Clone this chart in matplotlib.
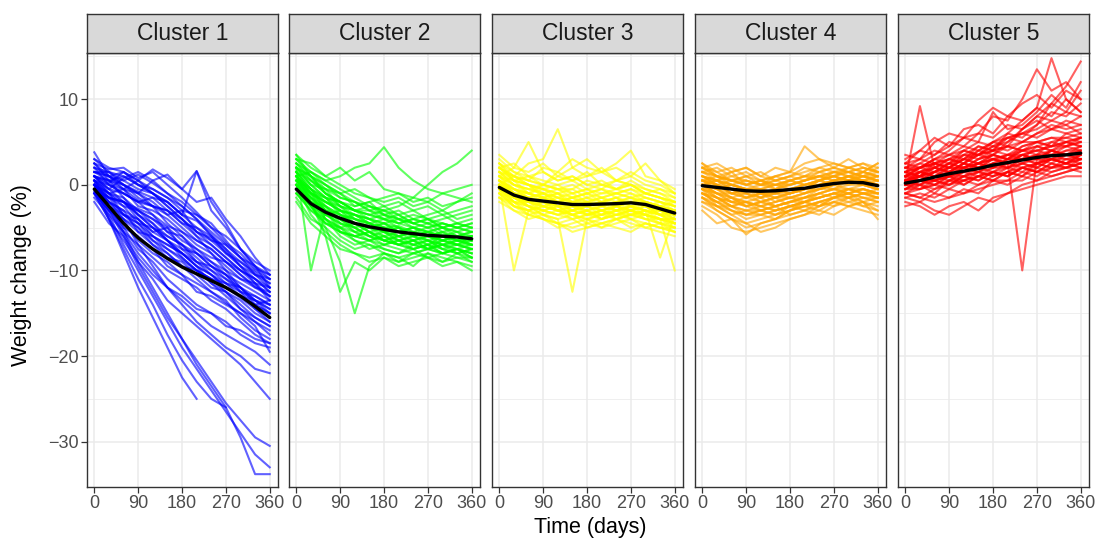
import numpy as np
import matplotlib
matplotlib.use('Agg')
import matplotlib.pyplot as plt

plt.rcParams['font.family'] = ['Liberation Sans', 'DejaVu Sans']

nan = np.nan

DAYS = [0, 30, 60, 90, 120, 150, 180, 210, 240, 270, 300, 330, 360]

# individual weight trajectories (%), one row per person
CLUSTER_1 = [
    [1.5, 1.0, 0.5, 1.2, 0.2, -1.0, -2.5, -4.0, -5.5, -7.0, -8.5, -10.0, -11.0],
    [2.5, 1.8, 2.0, 0.8, 1.5, 0.0, -1.5, -3.2, -5.0, -6.8, -8.0, -9.8, -10.5],
    [0.5, -0.5, 0.8, 1.5, 0.5, 1.2, -0.5, 1.6, -2.0, -4.5, -7.5, -9.5, -12.0],
    [3.8, 1.0, 0.0, -0.8, -1.5, -2.0, -3.5, -4.2, -5.8, -7.5, -9.0, -10.2, -11.5],
    [0.0, -1.0, -0.5, -1.8, -2.5, -3.0, -4.0, -5.5, -6.2, -7.8, -9.5, -11.0, -12.5],
    [1.0, 0.2, 1.5, 0.5, -0.5, -1.5, -3.0, -3.5, -5.0, -6.0, -7.5, -9.0, -10.0],
    [-0.5, -1.5, -2.0, -2.8, -3.5, -4.8, -5.5, -6.5, -7.5, -9.0, -10.5, -11.8, -13.0],
    [2.0, 1.5, 0.0, -1.0, 0.5, -1.0, -2.0, -3.5, -4.5, -6.5, -8.5, -10.5, -12.0],
    [0.0, -2.0, -3.5, -5.0, -6.5, -7.5, -8.8, -10.0, -11.0, -12.0, -13.2, -14.5, -15.5],
    [1.0, -1.0, -2.5, -3.0, -4.5, -6.0, -7.0, -8.5, -10.0, -11.5, -12.5, -13.5, -14.5],
    [-1.0, -3.0, -4.5, -6.5, -8.0, -9.0, -10.5, -11.5, -12.5, -13.8, -15.0, -16.0, -17.0],
    [0.5, -1.5, -2.0, -4.0, -5.5, -5.0, -7.5, -9.0, -9.5, -11.0, -12.0, -14.0, -13.5],
    [-1.5, -3.5, -5.5, -7.0, -8.5, -10.0, -11.0, -12.0, -13.5, -14.5, -16.0, -17.5, -18.5],
    [2.0, 0.0, -1.0, -2.0, -3.5, -5.5, -7.0, -9.0, -10.5, -12.0, -13.0, -14.0, -15.0],
    [0.0, -2.5, -4.0, -5.0, -7.0, -8.5, -9.0, -10.5, -12.0, -12.5, -14.5, -15.5, -16.5],
    [1.0, 0.5, -1.5, -3.5, -4.5, -6.5, -8.0, -9.5, -11.5, -13.0, -14.5, -16.0, -17.5],
    [-0.5, -2.0, -3.0, -5.5, -6.0, -7.5, -8.5, -10.0, -11.0, -11.5, -13.0, -13.5, -14.0],
    [0.5, -1.0, -3.5, -4.5, -6.5, -8.0, -9.5, -11.0, -12.5, -13.5, -15.5, -17.0, -18.0],
    [2.5, 0.5, -0.5, -2.5, -3.0, -4.0, -5.5, -7.0, -8.0, -9.5, -11.0, -12.0, -13.0],
    [-0.8, -2.5, -5.0, -6.0, -7.5, -9.5, -10.5, -12.5, -13.0, -14.0, -15.0, -16.5, -19.5],
    [1.0, -0.5, -1.0, -2.0, -2.5, -4.5, -6.0, -8.0, -9.5, -10.5, -12.5, -14.5, -16.0],
    [0.0, -1.5, -2.0, -3.5, -5.0, -6.0, -7.0, -8.0, -9.0, -10.0, -11.0, -11.5, -12.0],
    [1.5, 1.0, -0.5, 0.5, -1.0, -2.5, -4.0, -6.0, -8.0, -10.0, -12.0, -13.5, -15.0],
    [-1.0, -2.5, -3.5, -4.0, -6.0, -7.0, -8.0, -9.5, -10.5, -11.5, -12.0, -13.0, -14.0],
    [-0.5, -3.0, -5.5, -8.0, -10.0, -12.0, -13.5, -15.0, -16.5, -17.5, -18.5, -19.5, -21.0],
    [0.0, -2.5, -5.0, -7.5, -9.0, -11.0, -12.5, -14.0, -15.0, -16.0, -17.5, -18.5, -19.0],
    [-1.0, -4.0, -6.5, -9.0, -11.0, -13.5, -15.0, -16.5, -18.0, -19.5, -21.0, -23.0, -25.0],
    [0.5, -2.0, -4.0, -7.0, -9.5, -12.0, -14.0, -16.0, -17.5, -19.0, -20.0, -21.5, -22.0],
    [0.0, -3.0, -6.0, -9.5, -12.5, -15.5, -18.0, -20.5, -23.0, -25.5, -27.5, -29.5, -30.5],
    [-0.5, -3.5, -7.0, -10.0, -13.0, -16.0, -19.0, -21.5, -24.0, -26.5, -29.0, -31.5, -33.0],
    [0.5, -2.5, -5.5, -9.0, -12.0, -15.0, -18.0, -21.0, -23.5, -26.0, -29.5, -33.8, -33.8],
    [-1.0, -4.0, -7.5, -11.0, -14.0, -17.5, -20.5, -23.0, -25.0, -26.0, nan, nan, nan],
    [0.0, -4.0, -8.0, -12.0, -15.5, -19.0, -22.5, -25.0, nan, nan, nan, nan, nan],
    [1.0, 0.5, 1.0, 0.0, -1.0, -2.0, -3.5, 1.6, -3.0, -5.0, -7.5, -9.5, -11.0],
    [3.0, 2.0, 1.5, 0.5, 1.8, 0.8, -0.5, -2.0, -1.5, -4.0, -6.0, -8.5, -10.5],
    [-2.0, -4.5, -6.0, -8.5, -10.5, -12.0, -13.0, -14.5, -15.0, -16.5, -17.0, -18.0, -18.5],
    [0.5, 0.0, -1.0, -2.0, -1.5, -3.0, -4.5, -5.0, -6.5, -8.0, -9.0, -10.5, -11.5],
    [1.5, 0.5, 0.0, -1.5, -2.5, -3.5, -3.0, -5.5, -7.0, -8.5, -10.0, -11.0, -12.5],
    [-0.5, -2.0, -3.0, -4.0, -5.5, -6.5, -7.5, -8.0, -9.5, -10.5, -11.5, -12.5, -13.5],
    [2.0, 1.0, 1.5, 0.0, -1.0, -2.0, -3.5, -5.0, -6.0, -7.5, -9.5, -11.5, -13.0],
    [0.0, -1.5, -2.5, -4.5, -5.0, -6.5, -8.0, -9.0, -10.0, -11.0, -12.5, -13.0, -14.0],
    [1.0, 0.0, -0.5, -1.0, -2.0, -3.5, -5.0, -6.5, -7.5, -9.0, -10.5, -12.0, -12.5],
    [3.0, 1.5, 1.0, 0.0, -0.5, -1.5, -2.5, -4.0, -6.0, -8.0, -9.5, -10.5, -11.0],
    [-1.0, -3.0, -4.0, -5.5, -7.0, -8.0, -9.5, -10.0, -11.5, -12.5, -13.5, -15.0, -16.0],
    [0.5, -1.0, -2.0, -3.0, -4.0, -5.0, -6.5, -7.5, -8.5, -9.0, -10.0, -11.0, -12.0],
    [1.5, 1.5, 0.5, -0.5, -1.0, -2.5, -4.0, -5.5, -6.5, -7.0, -8.5, -9.5, -10.5],
    [0.0, -1.0, -1.5, -3.0, -4.0, -5.5, -6.0, -7.5, -9.0, -10.5, -12.0, -13.5, -14.5],
    [2.5, 1.0, 0.0, -1.0, -2.5, -3.0, -4.5, -6.0, -7.0, -8.5, -10.0, -11.5, -13.5],
    [-0.5, -1.5, -3.5, -4.5, -6.0, -7.0, -8.0, -9.5, -10.5, -12.0, -13.0, -14.0, -15.0],
    [1.0, -0.5, -2.0, -3.5, -5.0, -6.5, -8.5, -10.0, -11.0, -12.5, -14.0, -15.5, -16.5],
]

CLUSTER_2 = [
    [1.0, -1.0, -2.5, -3.5, -4.0, -4.5, -5.0, -4.8, -5.5, -5.0, -5.8, -6.0, -5.5],
    [2.5, 0.5, -1.0, -2.0, -3.0, -3.5, -3.0, -4.0, -4.5, -4.0, -5.0, -4.5, -5.0],
    [-1.0, -3.0, -4.5, -5.5, -6.0, -6.5, -7.0, -6.5, -7.5, -7.0, -8.0, -7.5, -8.0],
    [0.0, -2.0, -3.5, -4.5, -5.5, -5.0, -6.0, -6.5, -6.0, -7.0, -6.5, -7.0, -7.5],
    [3.0, 1.5, 0.0, -1.5, -2.0, -3.0, -2.5, -3.5, -3.0, -4.0, -3.5, -4.5, -4.0],
    [0.5, -1.5, -3.0, -5.0, -6.5, -7.0, -7.5, -8.0, -7.5, -8.5, -8.0, -8.5, -9.0],
    [1.5, -0.5, -2.0, -3.0, -3.5, -4.5, -4.0, -5.0, -5.5, -6.0, -5.5, -6.5, -6.0],
    [-0.5, -2.5, -4.0, -5.0, -4.5, -5.5, -6.5, -6.0, -7.0, -6.5, -7.5, -7.0, -7.0],
    [2.0, 0.0, -0.5, -1.0, -2.5, -2.0, -3.5, -3.0, -4.0, -3.5, -3.0, -4.0, -3.5],
    [0.0, -3.5, -5.5, -7.0, -8.0, -8.5, -8.0, -9.0, -8.5, -8.0, -9.0, -8.5, -8.5],
    [1.0, -1.0, -1.5, -3.5, -4.5, -5.5, -6.0, -5.5, -6.5, -6.0, -7.0, -6.5, -6.5],
    [3.5, 2.0, 1.0, 0.0, -1.0, -1.5, -2.5, -2.0, -3.0, -2.5, -3.5, -3.0, -2.5],
    [-1.5, -4.0, -5.0, -6.5, -7.5, -7.0, -8.0, -8.5, -9.5, -8.0, -8.5, -9.0, -10.0],
    [0.5, -2.0, -2.5, -4.0, -5.0, -6.0, -5.5, -6.5, -7.0, -7.5, -6.5, -7.0, -6.0],
    [2.0, 1.0, -1.0, -2.5, -3.0, -4.0, -4.5, -4.0, -5.0, -5.5, -5.0, -5.5, -5.0],
    [0.0, -1.5, -3.0, -4.0, -3.5, -4.5, -5.0, -5.5, -5.0, -6.0, -5.5, -5.0, -4.5],
    [1.0, -0.5, -3.0, -5.5, -6.0, -5.5, -6.5, -7.0, -6.5, -7.5, -7.0, -7.5, -7.0],
    [-0.5, -2.0, -3.5, -3.0, -4.5, -5.0, -4.5, -5.5, -6.0, -5.5, -6.5, -6.0, -6.5],
    [2.5, 1.5, 0.5, -0.5, -1.5, -2.5, -3.0, -3.5, -4.5, -5.0, -4.5, -5.0, -5.5],
    [1.5, 0.0, -1.5, -2.0, -3.0, -3.5, -4.0, -4.5, -4.0, -4.5, -5.0, -5.5, -6.0],
    [1.0, 1.5, 0.5, 1.0, 2.0, 2.5, 4.4, 2.0, 0.5, -0.5, -1.0, -1.5, -2.0],
    [0.5, -0.5, -1.5, -2.0, -2.5, -2.0, -1.5, -1.0, -1.5, 0.0, 1.5, 2.5, 4.0],
    [2.0, 1.0, 0.0, -1.0, -0.5, -1.5, -2.0, -1.5, -2.5, -2.0, -1.0, -0.5, 0.0],
    [0.0, -2.5, -5.0, -9.0, -15.0, -9.5, -8.0, -8.5, -8.0, -7.5, -8.0, -7.5, -8.0],
    [1.0, -2.0, -6.0, -12.5, -9.0, -10.0, -8.5, -9.0, -8.0, -8.5, -9.0, -8.0, -8.5],
    [2.0, -10.0, -3.0, -4.0, -5.0, -4.5, -5.5, -6.0, -5.5, -6.0, -6.5, -6.0, -6.5],
    [3.0, 2.5, 1.0, 2.0, 0.5, 1.5, -0.5, -1.0, -2.0, -1.5, -2.5, -2.0, -1.0],
    [-2.0, -4.5, -6.0, -7.5, -8.0, -9.0, -8.5, -9.5, -9.0, -8.5, -9.5, -9.0, -9.5],
    [0.5, -1.0, -2.0, -2.5, -4.0, -4.5, -5.5, -5.0, -6.0, -5.5, -6.0, -7.0, -7.5],
    [1.5, -1.0, -4.0, -5.5, -6.5, -7.5, -7.0, -7.5, -8.0, -7.5, -7.0, -8.0, -7.5],
    [-1.0, -2.5, -4.5, -5.0, -6.0, -6.5, -6.0, -7.0, -6.5, -7.0, -6.0, -6.5, -7.0],
    [2.0, 0.5, -0.5, -1.5, -2.0, -3.0, -3.5, -4.5, -4.0, -4.5, -4.0, -3.5, -3.0],
    [0.0, -1.0, -2.0, -3.0, -3.5, -4.0, -3.5, -4.0, -4.5, -4.0, -4.5, -5.0, -4.5],
    [1.0, -1.5, -3.5, -4.5, -5.0, -6.0, -6.5, -7.0, -7.5, -7.0, -8.0, -7.5, -8.5],
    [3.5, 1.0, -1.0, -2.0, -3.0, -2.5, -3.0, -2.5, -1.5, -2.0, -3.0, -2.0, -1.5],
    [0.0, -2.0, -4.0, -6.0, -7.0, -6.5, -7.5, -8.0, -7.0, -6.5, -7.5, -8.0, -9.0],
    [1.0, -1.0, -2.0, -3.0, -4.0, -4.5, -5.5, -5.0, -6.0, -6.5, -6.0, -6.5, -7.0],
    [0.0, -2.0, -3.0, -4.0, -4.5, -5.5, -5.0, -6.0, -5.5, -6.5, -7.0, -6.5, -7.0],
    [2.0, 0.0, -1.5, -3.0, -3.5, -4.0, -5.0, -5.5, -5.0, -5.5, -6.0, -6.5, -6.0],
    [-0.5, -2.5, -4.5, -5.5, -6.0, -5.5, -6.5, -7.0, -7.5, -7.0, -7.5, -8.0, -7.5],
    [1.5, -0.5, -2.5, -3.5, -4.5, -5.0, -4.5, -5.0, -6.0, -5.5, -6.0, -5.5, -6.5],
    [0.5, -1.5, -2.5, -4.5, -5.0, -6.0, -6.5, -6.0, -6.5, -6.0, -6.5, -7.0, -6.5],
    [2.5, 1.0, -0.5, -2.5, -3.0, -3.5, -4.0, -3.5, -4.5, -5.0, -4.5, -5.0, -5.5],
    [0.0, -2.5, -3.5, -4.0, -5.5, -6.5, -6.0, -7.0, -6.5, -7.5, -7.0, -7.5, -8.0],
    [1.0, -0.5, -1.5, -2.5, -3.5, -4.0, -4.5, -5.5, -5.0, -5.5, -5.0, -6.0, -6.0],
    [-1.0, -3.0, -4.0, -5.0, -5.5, -6.0, -7.0, -6.5, -7.0, -7.5, -8.0, -7.5, -8.5],
    [3.0, 1.0, 0.0, -1.0, -2.0, -2.5, -3.5, -4.0, -3.5, -4.0, -5.0, -4.5, -5.0],
    [0.5, -1.0, -3.0, -4.0, -4.5, -5.0, -5.5, -6.5, -6.0, -6.5, -7.0, -7.0, -7.5],
    [1.5, 0.5, -1.0, -2.0, -3.0, -3.0, -4.0, -4.5, -5.0, -4.5, -5.5, -6.0, -5.5],
    [-0.5, -2.0, -3.0, -3.5, -4.0, -5.0, -5.5, -6.0, -5.5, -6.0, -6.5, -6.0, -7.0],
]

CLUSTER_3 = [
    [0.5, -0.5, -1.0, -1.5, -1.0, -2.0, -1.5, -2.5, -2.0, -1.5, -2.0, -2.5, -3.0],
    [2.0, 1.0, 0.0, -0.5, -1.0, -0.5, -1.5, -1.0, -0.5, -1.0, -1.5, -2.0, -2.5],
    [-1.0, -2.5, -3.0, -3.5, -4.0, -3.5, -4.5, -4.0, -3.5, -4.0, -4.5, -5.0, -5.5],
    [0.0, -1.5, -2.0, -2.5, -3.0, -3.5, -3.0, -2.5, -3.0, -2.5, -3.5, -4.0, -4.0],
    [3.0, 1.5, 1.0, 0.5, 0.0, 0.5, -0.5, 0.0, 0.5, 0.0, -1.0, -1.5, -2.0],
    [-0.5, -2.0, -3.5, -4.0, -4.5, -5.0, -4.5, -5.0, -4.0, -4.5, -5.0, -5.5, -6.0],
    [1.0, 0.0, -0.5, -1.0, -2.0, -1.5, -2.0, -1.5, -2.5, -2.0, -2.5, -3.0, -3.5],
    [-2.0, -3.0, -3.5, -3.0, -3.5, -4.0, -3.5, -3.0, -4.0, -3.5, -3.0, -4.0, -4.5],
    [1.5, 0.5, -1.0, -0.5, -1.5, -2.0, -2.5, -2.0, -1.5, -2.5, -2.0, -3.0, -3.5],
    [0.0, -1.0, -1.5, -2.5, -2.0, -3.0, -2.5, -3.5, -3.0, -2.5, -3.0, -3.5, -4.5],
    [2.5, 0.5, 0.0, -1.0, -0.5, -1.5, -1.0, -0.5, -1.5, -1.0, -2.0, -2.5, -2.0],
    [-1.5, -3.0, -4.0, -3.5, -4.5, -4.0, -5.0, -4.5, -4.0, -5.0, -4.5, -5.0, -5.0],
    [0.5, -1.0, -2.0, -1.5, -2.5, -3.0, -2.0, -3.0, -2.5, -2.0, -2.5, -3.5, -3.0],
    [1.0, 0.5, 0.0, -1.5, -1.0, -2.5, -3.0, -2.5, -2.0, -3.0, -3.5, -3.0, -4.0],
    [-0.5, -1.5, -2.5, -3.0, -2.5, -2.0, -3.5, -3.0, -3.5, -3.0, -4.0, -4.5, -5.0],
    [2.0, 2.5, 1.0, 1.5, 0.5, 1.0, 0.0, 0.5, -0.5, 0.0, -1.0, -0.5, -1.5],
    [0.0, -2.0, -2.5, -2.0, -3.0, -2.5, -3.0, -3.5, -2.5, -3.0, -2.0, -3.0, -3.5],
    [1.5, 0.0, -0.5, 0.0, -0.5, -1.0, -0.5, -1.5, -1.0, -0.5, -1.5, -2.0, -2.5],
    [-1.0, -2.0, -2.0, -3.0, -3.5, -3.0, -2.5, -3.0, -3.5, -3.5, -3.0, -3.5, -4.0],
    [0.5, -0.5, -1.5, -2.0, -1.5, -1.0, -2.0, -1.5, -1.0, -1.5, -2.5, -2.0, -3.0],
    [1.0, 2.0, 5.0, 1.5, 0.5, 1.0, 0.0, -0.5, 0.5, 0.0, -1.0, -1.5, -2.0],
    [2.0, 1.0, 2.5, 3.0, 6.5, 2.0, 1.0, 1.5, 0.5, 1.0, 0.0, -0.5, -1.0],
    [0.0, 1.0, 0.5, 2.0, 1.5, 3.0, 2.0, 1.5, 2.5, 4.0, 1.0, 0.5, -1.0],
    [0.0, -10.0, -3.0, -2.5, -3.0, -3.5, -3.0, -4.0, -3.5, -3.0, -3.5, -4.0, -4.5],
    [-0.5, -1.5, -2.5, -3.5, -4.0, -12.5, -4.0, -4.5, -4.0, -3.5, -4.0, -4.5, -5.0],
    [0.5, -0.5, -1.0, -1.5, -2.0, -2.5, -2.0, -2.5, -3.0, -2.5, -3.0, -8.5, -3.5],
    [-1.0, -1.5, -2.0, -2.5, -3.0, -2.5, -3.5, -3.0, -2.5, -3.0, -3.5, -4.0, -10.0],
    [3.5, 2.0, 1.5, 2.5, 1.0, 2.0, 3.0, 1.5, 2.0, 1.0, 2.5, 0.5, -0.5],
    [1.0, 0.0, -1.0, 0.0, 1.0, 0.5, 1.5, 0.0, -0.5, 0.5, -0.5, -1.0, -2.0],
    [-0.5, -2.5, -3.0, -4.0, -4.5, -5.5, -5.0, -4.5, -5.0, -5.5, -4.5, -5.0, -5.5],
    [0.0, -1.0, -1.0, -1.5, -2.0, -1.5, -2.5, -2.0, -2.5, -2.0, -2.0, -2.5, -3.0],
    [2.5, 1.0, 0.5, 0.0, -0.5, 0.0, -1.0, -0.5, -1.0, -1.5, -1.0, -1.5, -2.0],
    [-1.5, -2.5, -3.5, -4.0, -5.0, -4.5, -4.0, -5.0, -4.5, -4.0, -5.0, -4.5, -5.5],
    [1.0, -1.0, -1.5, -1.0, -2.0, -1.5, -1.0, -2.0, -1.5, -2.5, -2.0, -2.5, -3.0],
    [0.5, -1.0, -2.5, -3.0, -2.5, -3.5, -4.0, -3.5, -3.0, -4.0, -3.5, -4.0, -4.5],
    [2.0, 0.5, 1.0, 0.0, 1.5, 0.5, 1.0, 2.0, 0.5, 1.5, 0.5, 0.0, -1.0],
    [0.5, -1.0, -1.5, -2.0, -2.5, -2.0, -2.5, -3.0, -2.5, -2.0, -2.5, -3.0, -3.5],
    [1.5, 0.0, -0.5, -1.0, -1.5, -2.0, -1.5, -2.0, -1.5, -2.0, -1.5, -2.0, -2.5],
    [-0.5, -2.0, -2.5, -3.0, -3.5, -3.0, -3.5, -4.0, -3.5, -3.0, -3.5, -4.5, -4.5],
    [0.0, -0.5, -1.0, -2.0, -2.5, -2.5, -2.0, -2.5, -2.0, -2.5, -3.0, -3.5, -4.0],
    [2.0, 0.5, 0.0, -0.5, -1.0, -1.5, -1.0, -1.5, -2.0, -1.5, -2.0, -2.5, -3.0],
    [-1.0, -2.5, -3.0, -2.5, -3.0, -3.5, -4.0, -3.5, -3.0, -3.5, -4.0, -4.0, -5.0],
    [1.0, -0.5, -1.5, -1.0, -1.5, -2.5, -2.5, -2.0, -3.0, -2.5, -3.0, -3.0, -3.0],
    [0.0, -1.5, -2.0, -2.5, -2.0, -3.0, -3.5, -3.0, -2.5, -3.5, -3.0, -3.5, -3.5],
    [-0.5, -1.0, -2.0, -1.5, -2.5, -2.0, -2.0, -2.5, -2.0, -2.0, -2.5, -3.0, -4.0],
    [1.5, 1.0, 0.0, -0.5, 0.0, -1.0, -0.5, -1.0, -1.0, -0.5, -1.0, -1.5, -2.5],
    [0.5, -1.5, -2.5, -3.5, -3.0, -4.0, -3.5, -3.5, -4.0, -3.5, -3.5, -4.0, -4.0],
    [-1.5, -2.0, -3.0, -2.0, -2.5, -3.5, -3.0, -4.0, -3.0, -3.0, -2.5, -3.5, -4.5],
    [2.5, 1.5, 0.5, 0.0, -0.5, -0.5, 0.5, 0.0, -0.5, 0.0, -0.5, -1.0, -1.5],
    [0.0, -1.0, -2.0, -2.0, -3.0, -3.0, -2.5, -2.0, -2.5, -3.0, -2.5, -3.5, -3.0],
]

CLUSTER_4 = [
    [0.5, 0.0, -0.5, -1.0, -0.5, -1.0, -0.5, 0.0, 0.5, 0.0, 0.5, 1.0, 0.5],
    [2.0, 1.0, 0.5, 0.0, 0.5, 0.0, 0.5, 1.0, 0.5, 1.5, 1.0, 1.5, 1.0],
    [-1.0, -2.0, -2.5, -3.0, -2.5, -3.0, -2.5, -2.0, -2.5, -1.5, -2.0, -1.5, -2.0],
    [0.0, -1.0, -1.5, -2.0, -2.5, -2.0, -1.5, -2.0, -1.0, -0.5, -1.0, -0.5, -1.0],
    [1.5, 2.0, 1.0, 1.5, 0.5, 1.0, 1.5, 1.0, 2.0, 1.5, 2.0, 2.5, 1.5],
    [-2.0, -3.0, -4.0, -4.5, -4.0, -3.5, -3.0, -2.5, -2.0, -1.5, -1.0, -1.5, -2.0],
    [0.5, -0.5, 0.0, -0.5, -1.0, -0.5, 0.0, 0.5, 1.0, 1.5, 1.0, 0.5, 0.0],
    [-0.5, -1.5, -2.0, -1.5, -2.0, -2.5, -2.0, -1.5, -1.0, -1.5, -0.5, -1.0, -1.5],
    [1.0, 0.5, 1.0, 0.5, 0.0, 0.5, 1.0, 0.5, 1.5, 2.0, 1.5, 1.0, 2.0],
    [-1.5, -2.5, -3.5, -3.0, -3.5, -3.0, -2.5, -3.0, -2.5, -2.0, -2.5, -2.0, -3.0],
    [0.0, 0.5, -0.5, -1.0, -1.5, -1.0, -0.5, -1.0, -0.5, 0.0, 0.5, 0.0, -0.5],
    [2.5, 1.5, 2.0, 1.0, 1.5, 0.5, 1.0, 1.5, 2.0, 2.5, 2.0, 2.5, 2.0],
    [-3.0, -4.5, -4.0, -5.0, -4.5, -4.0, -3.5, -3.0, -3.5, -2.5, -2.0, -2.5, -3.0],
    [0.5, -0.5, -1.5, -1.0, -2.0, -1.5, -1.0, -0.5, 0.0, 0.5, 1.0, 0.5, 0.0],
    [1.0, 0.0, 0.5, 0.0, -0.5, 0.0, 0.5, 0.0, 0.5, 1.0, 1.5, 1.0, 0.5],
    [-0.5, -1.0, -2.0, -2.5, -3.0, -2.5, -2.0, -1.5, -1.0, -0.5, -1.0, -0.5, -1.0],
    [0.0, -0.5, 0.0, 0.5, 0.0, -0.5, 0.0, 0.5, 1.0, 0.5, 1.0, 1.5, 1.0],
    [-1.0, -2.0, -1.5, -2.5, -2.0, -1.5, -2.5, -2.0, -1.5, -1.0, -1.5, -1.0, -1.5],
    [1.5, 1.0, 0.0, -0.5, 0.0, 0.5, 0.0, 0.5, 1.0, 0.5, 1.0, 0.5, 1.0],
    [-2.5, -3.5, -5.0, -5.5, -5.0, -4.5, -4.0, -3.5, -3.0, -3.5, -2.5, -3.0, -3.5],
    [0.5, 1.0, 0.5, 1.0, 0.5, 1.0, 1.5, 4.5, 3.0, 2.0, 1.5, 2.0, 1.5],
    [2.0, 2.5, 1.5, 2.0, 1.0, 2.0, 1.5, 2.5, 3.0, 2.5, 2.0, 1.5, 2.5],
    [-1.5, -3.0, -4.0, -5.8, -4.5, -4.0, -3.0, -2.5, -2.0, -1.5, -1.0, -2.0, -4.0],
    [0.0, -1.5, -2.5, -3.5, -3.0, -3.5, -2.5, -2.0, -1.5, -1.0, -0.5, -1.0, -0.5],
    [1.0, 0.5, 0.0, -0.5, -1.0, -1.5, -1.0, -0.5, 0.0, 0.5, 0.0, 0.5, 0.0],
    [-0.5, 0.0, -1.0, -1.5, -1.0, -2.0, -1.5, -1.0, -0.5, 0.0, -0.5, 0.0, 0.5],
    [2.5, 1.0, 1.5, 2.0, 1.0, 0.5, 1.0, 2.0, 1.5, 1.0, 2.0, 1.5, 2.5],
    [-2.0, -2.5, -3.0, -4.0, -3.5, -4.0, -3.0, -2.5, -3.0, -2.0, -2.5, -2.0, -1.5],
    [0.0, -1.0, -1.0, -0.5, -1.5, -1.0, -1.5, -1.0, 0.0, -0.5, 0.5, 0.0, -0.5],
    [-1.0, -1.5, -2.5, -2.0, -3.0, -3.5, -3.0, -2.0, -2.5, -1.5, -1.0, -0.5, -1.0],
    [1.5, 0.5, 1.5, 0.0, 0.5, -0.5, 0.5, 0.0, 0.5, 1.0, 0.5, 1.5, 1.0],
    [-0.5, -2.5, -3.5, -4.5, -5.5, -5.0, -4.0, -3.5, -2.5, -2.0, -1.5, -1.0, -1.5],
    [0.5, 0.0, -1.0, -0.5, -1.0, -0.5, -1.0, -0.5, 0.5, 1.0, 0.5, 1.0, 1.5],
    [-1.5, -2.0, -3.0, -3.5, -3.0, -2.5, -3.5, -3.0, -2.0, -2.5, -1.5, -2.5, -2.0],
    [2.0, 1.5, 0.5, 1.0, 0.0, 1.0, 0.5, 1.0, 1.5, 2.0, 3.0, 2.0, 1.5],
    [0.0, -0.5, -1.5, -2.0, -1.5, -2.5, -2.0, -1.5, -0.5, 0.0, 0.5, 0.0, -0.5],
    [0.0, -0.5, -1.0, -1.5, -1.0, -1.5, -1.0, -0.5, -0.5, 0.0, 0.5, 0.5, 0.0],
    [1.0, 0.5, 0.0, -0.5, -0.5, 0.0, -0.5, 0.0, 0.5, 1.0, 0.5, 1.0, 0.5],
    [-1.0, -1.5, -2.0, -2.0, -2.5, -2.0, -1.5, -1.5, -1.0, -0.5, -0.5, -1.0, -1.0],
    [0.5, 0.0, -0.5, -1.5, -1.0, -1.0, -0.5, -0.5, 0.0, 0.5, 1.0, 1.0, 0.5],
    [-0.5, -1.5, -2.5, -2.0, -2.5, -3.0, -2.5, -2.0, -1.5, -1.0, -1.5, -1.0, -1.0],
    [1.5, 1.0, 0.5, 0.5, 0.0, 0.0, 0.5, 1.0, 1.0, 1.5, 1.5, 1.0, 1.0],
    [0.0, -1.0, -2.0, -2.5, -2.0, -1.5, -1.5, -1.0, -0.5, -0.5, 0.0, 0.0, -0.5],
    [-1.5, -2.5, -2.5, -3.0, -3.0, -2.5, -2.0, -2.0, -1.5, -1.0, -1.0, -1.5, -1.5],
    [0.5, 0.5, -0.5, -0.5, -1.0, -1.0, -0.5, 0.0, 0.0, 0.5, 0.5, 0.0, 0.0],
    [1.0, 0.0, -1.0, -1.0, -1.5, -0.5, -1.0, -0.5, 0.5, 0.0, 1.0, 0.5, 1.0],
    [-0.5, -1.0, -1.5, -2.5, -2.0, -2.5, -2.0, -1.5, -1.5, -1.0, -0.5, -0.5, -1.0],
    [0.0, 0.5, 0.0, -0.5, -0.5, -1.0, -1.0, -0.5, 0.0, 0.0, 0.5, 0.5, 0.5],
    [2.0, 1.0, 0.5, 0.0, 0.5, 0.0, 0.0, 0.5, 1.0, 1.0, 1.5, 2.0, 1.5],
    [-1.0, -2.0, -3.0, -3.5, -3.5, -3.0, -2.5, -2.5, -2.0, -1.5, -1.5, -2.0, -2.5],
]

CLUSTER_5 = [
    [0.0, 0.5, 1.0, 0.5, 1.5, 2.0, 1.5, 2.5, 3.0, 2.5, 3.5, 3.0, 3.5],
    [1.5, 2.0, 2.5, 3.0, 2.5, 3.5, 4.0, 3.5, 4.5, 5.0, 4.5, 5.0, 5.5],
    [-1.0, -1.5, -0.5, 0.0, 0.5, 0.0, 1.0, 1.5, 1.0, 2.0, 1.5, 2.0, 2.5],
    [0.5, 1.0, 0.5, 1.5, 2.0, 2.5, 2.0, 3.0, 3.5, 3.0, 4.0, 3.5, 3.0],
    [2.5, 3.0, 4.0, 3.5, 4.5, 4.0, 5.0, 5.5, 6.0, 5.5, 6.5, 6.0, 6.5],
    [-2.0, -2.5, -3.5, -2.5, -2.0, -3.0, -1.5, -1.0, -0.5, 0.0, 0.5, 1.0, 1.0],
    [0.0, 0.5, 1.5, 1.0, 2.0, 1.5, 2.5, 2.0, 3.0, 3.5, 3.0, 4.0, 4.5],
    [1.0, 1.5, 1.0, 2.0, 1.5, 2.5, 3.0, 2.5, 3.5, 3.0, 4.0, 3.5, 4.0],
    [-0.5, 0.0, -1.0, 0.5, 0.0, 1.0, 0.5, 1.5, 1.0, 2.5, 2.0, 2.5, 2.0],
    [3.0, 4.0, 3.5, 5.0, 4.5, 6.0, 5.5, 7.0, 6.5, 8.0, 7.5, 8.5, 8.0],
    [0.5, 0.0, 1.0, 1.5, 1.0, 2.0, 2.5, 2.0, 3.0, 2.5, 3.0, 2.5, 3.0],
    [-1.5, -2.0, -3.0, -3.5, -2.5, -1.5, -2.0, -1.0, 0.0, 0.5, 1.0, 1.5, 2.0],
    [1.0, 2.0, 1.5, 2.5, 3.5, 3.0, 4.0, 4.5, 4.0, 5.0, 5.5, 5.0, 5.5],
    [0.0, -0.5, 0.5, 0.0, 1.0, 0.5, 1.5, 1.0, 2.0, 1.5, 2.5, 2.0, 2.5],
    [2.0, 1.5, 2.5, 2.0, 3.0, 2.5, 3.5, 3.0, 4.0, 4.5, 4.0, 4.5, 5.0],
    [-0.5, 0.5, 0.0, 1.0, 0.5, 1.5, 1.0, 2.0, 2.5, 2.0, 3.0, 2.5, 3.0],
    [0.5, 1.0, 2.0, 1.5, 2.5, 3.5, 3.0, 2.5, 3.5, 4.0, 3.5, 4.5, 4.0],
    [1.5, 1.0, 0.5, 1.0, 0.0, 1.0, 1.5, 1.0, 2.0, 1.5, 2.0, 2.5, 2.0],
    [0.5, 9.2, 2.0, 1.5, 2.5, 2.0, 3.0, 2.5, 3.5, 3.0, 4.0, 3.5, 4.0],
    [1.0, 1.5, 2.0, 1.5, 2.5, 2.0, 3.0, 2.5, -10.0, 3.0, 2.5, 3.5, 3.0],
    [1.5, 2.0, 3.0, 2.5, 4.0, 3.5, 5.0, 6.0, 7.5, 9.0, 14.8, 10.0, 8.5],
    [0.5, 1.5, 2.0, 3.0, 2.5, 4.0, 5.0, 4.5, 6.5, 8.0, 9.5, 11.5, 14.4],
    [2.0, 2.5, 3.5, 4.5, 5.5, 6.0, 8.0, 7.5, 10.0, 13.5, 11.0, 12.0, 10.0],
    [1.0, 2.0, 3.0, 4.0, 5.5, 5.0, 8.5, 6.5, 7.0, 8.5, 10.5, 9.0, 12.0],
    [3.5, 3.0, 5.0, 6.0, 5.5, 7.5, 9.0, 8.0, 9.5, 10.5, 9.0, 11.0, 10.0],
    [0.0, 1.0, 2.5, 2.0, 3.5, 4.5, 4.0, 6.0, 5.5, 7.0, 8.5, 8.0, 9.5],
    [2.5, 4.0, 5.5, 4.5, 6.5, 7.0, 6.0, 8.0, 7.5, 9.0, 8.0, 10.0, 8.5],
    [-1.0, 0.0, 0.5, 1.0, 2.0, 1.5, 2.5, 3.5, 3.0, 4.5, 4.0, 5.0, 4.5],
    [0.5, 0.0, -0.5, 0.5, 1.0, 0.5, 1.5, 2.0, 1.5, 2.5, 3.0, 2.5, 3.5],
    [2.0, 3.0, 2.5, 3.5, 3.0, 4.5, 4.0, 5.5, 5.0, 6.0, 7.0, 6.5, 7.0],
    [-2.5, -2.0, -1.0, -1.5, -0.5, -1.0, 0.5, 0.0, 1.0, 0.5, 1.5, 2.0, 1.5],
    [1.0, 0.5, 1.5, 2.5, 2.0, 3.0, 3.5, 4.5, 4.0, 3.5, 5.0, 4.5, 5.5],
    [0.0, 1.5, 1.0, 2.0, 3.0, 2.5, 3.5, 3.0, 4.5, 5.0, 4.5, 6.0, 5.5],
    [1.5, 2.5, 2.0, 3.0, 4.0, 3.5, 4.5, 5.0, 6.5, 7.5, 6.5, 7.0, 6.0],
    [-1.0, -0.5, 0.0, -0.5, 0.5, 1.0, 0.5, 1.5, 2.0, 1.5, 2.5, 2.0, 3.0],
    [0.5, 1.0, 1.5, 2.5, 3.0, 4.0, 3.5, 5.0, 6.0, 7.0, 9.5, 8.5, 11.0],
    [0.0, 0.5, 0.5, 1.0, 1.0, 1.5, 2.0, 2.0, 2.5, 3.0, 3.0, 3.5, 3.5],
    [1.0, 1.0, 1.5, 2.0, 2.0, 2.5, 3.0, 3.5, 3.5, 4.0, 4.5, 4.5, 5.0],
    [-0.5, -0.5, 0.0, 0.5, 0.5, 1.0, 1.5, 1.0, 2.0, 2.5, 2.0, 3.0, 3.0],
    [0.5, 1.5, 1.0, 1.5, 2.5, 2.0, 2.5, 3.0, 2.5, 3.5, 3.5, 4.0, 4.0],
    [2.0, 2.0, 2.5, 3.0, 3.5, 3.5, 4.0, 4.5, 5.0, 5.0, 5.5, 5.5, 6.0],
    [-1.5, -1.0, -1.5, -0.5, -1.0, 0.0, 0.5, 0.5, 1.5, 1.0, 2.0, 2.0, 2.5],
    [0.0, 0.0, 1.0, 1.0, 1.5, 2.5, 2.0, 3.0, 3.0, 3.5, 4.0, 3.5, 4.5],
    [1.5, 1.0, 2.0, 2.5, 2.0, 3.0, 3.5, 3.0, 4.0, 4.5, 5.0, 5.5, 5.0],
    [0.5, 0.5, 0.0, 1.0, 1.5, 1.0, 2.0, 2.5, 2.0, 2.5, 3.0, 3.0, 2.5],
    [-1.0, -1.5, -2.0, -1.5, -1.0, -0.5, 0.0, 0.5, 0.5, 1.5, 1.0, 1.5, 2.0],
    [1.0, 2.0, 2.5, 2.0, 3.0, 3.5, 4.5, 4.0, 5.0, 6.0, 6.5, 7.5, 7.0],
    [0.0, 1.0, 1.5, 2.0, 2.0, 2.5, 3.0, 3.5, 4.0, 4.0, 4.5, 5.0, 4.5],
    [2.5, 2.0, 3.0, 3.5, 4.0, 5.0, 4.5, 5.5, 6.0, 6.5, 7.5, 7.0, 8.0],
    [-0.5, 0.5, 0.5, 0.0, 1.0, 1.5, 1.0, 1.5, 2.5, 2.0, 3.0, 2.5, 3.5],
]

# smoothed cluster means (black lines)
MEAN_1 = [-0.5, -2.5, -4.5, -6.2, -7.5, -8.6, -9.6, -10.4, -11.2, -12.0, -13.0, -14.2, -15.5]
MEAN_2 = [-0.5, -2.2, -3.2, -3.9, -4.5, -4.9, -5.2, -5.5, -5.7, -5.9, -6.0, -6.1, -6.3]
MEAN_3 = [-0.3, -1.2, -1.7, -1.9, -2.1, -2.3, -2.3, -2.25, -2.2, -2.1, -2.3, -2.8, -3.3]
MEAN_4 = [-0.1, -0.3, -0.5, -0.7, -0.75, -0.7, -0.55, -0.4, -0.1, 0.15, 0.3, 0.25, -0.1]
MEAN_5 = [0.2, 0.5, 0.9, 1.3, 1.6, 1.9, 2.3, 2.6, 2.9, 3.2, 3.4, 3.5, 3.7]

TITLES = ['Cluster 1', 'Cluster 2', 'Cluster 3', 'Cluster 4', 'Cluster 5']
COLOURS = ['#0000FF', '#00FF00', '#FFFF00', '#FFA500', '#FF0000']
CLUSTERS = [CLUSTER_1, CLUSTER_2, CLUSTER_3, CLUSTER_4, CLUSTER_5]
MEANS = [MEAN_1, MEAN_2, MEAN_3, MEAN_4, MEAN_5]

X_TICKS = [0, 90, 180, 270, 360]
Y_TICKS = [-30, -20, -10, 0, 10]

W, H = 1102, 543
fig = plt.figure(figsize=(W / 100, H / 100), dpi=100)

LEFTS = [87, 289, 492, 695, 898]
PANEL_W = 191
TOP, BOTTOM, STRIP_TOP = 53, 487, 14
EDGE = '#333333'

for i in range(5):
    rect = [LEFTS[i] / W, 1 - BOTTOM / H, PANEL_W / W, (BOTTOM - TOP) / H]
    ax = fig.add_axes(rect)
    for line in CLUSTERS[i]:
        ax.plot(DAYS, line, color=COLOURS[i], lw=1.5, alpha=0.62)
    ax.plot(DAYS, MEANS[i], color='black', lw=2.4, solid_capstyle='round')

    ax.set_xlim(-15, 377)
    ax.set_ylim(-35.3, 15.4)
    ax.set_xticks(X_TICKS)
    ax.set_yticks(Y_TICKS)
    ax.set_yticks([-25, -15, -5, 5, 15], minor=True)
    ax.grid(True, which='major', color='#EBEBEB', lw=1.1)
    ax.grid(True, which='minor', axis='y', color='#EBEBEB', lw=0.55)
    ax.set_axisbelow(True)
    ax.tick_params(which='minor', length=0)
    ax.tick_params(which='major', length=4, width=0.9, color=EDGE,
                   labelcolor='#4D4D4D', labelsize=13, pad=2)
    for spine in ax.spines.values():
        spine.set_color(EDGE)
        spine.set_linewidth(1.0)
    if i > 0:
        ax.tick_params(axis='y', left=False, labelleft=False)

    # facet strip on top of each panel
    sax = fig.add_axes([LEFTS[i] / W, 1 - TOP / H, PANEL_W / W,
                        (TOP - STRIP_TOP) / H])
    sax.set_facecolor('#D9D9D9')
    sax.set_xticks([])
    sax.set_yticks([])
    for spine in sax.spines.values():
        spine.set_color(EDGE)
        spine.set_linewidth(1.0)
    sax.text(0.5, 0.5, TITLES[i], ha='center', va='center', fontsize=16.5,
             color='#1A1A1A', transform=sax.transAxes)

fig.text(590 / W, 1 - 528 / H, 'Time (days)', ha='center', va='center',
         fontsize=15.5)
fig.text(22 / W, 1 - 275 / H, 'Weight change (%)', ha='center', va='center',
         rotation=90, fontsize=15.5)

fig.savefig('out.png', dpi=100)
